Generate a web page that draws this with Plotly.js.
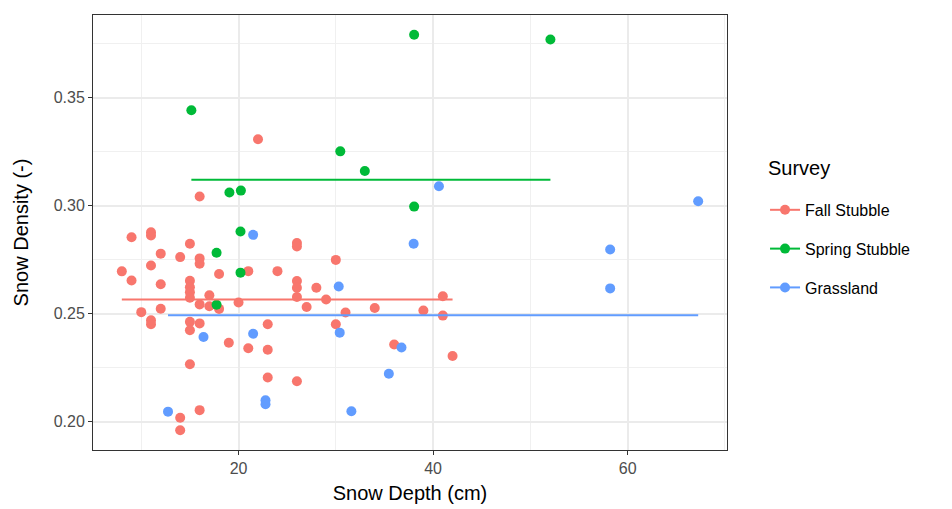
<!DOCTYPE html>
<html>
<head>
<meta charset="utf-8">
<script src="https://cdn.plot.ly/plotly-3.0.1.min.js"></script>
<style>html,body{margin:0;padding:0;background:#fff;}#chart{width:952px;height:509px;}</style>
</head>
<body>
<div id="chart"></div>
<script>
// ---- Data ----
const seriesNames = ["Fall Stubble", "Spring Stubble", "Grassland"];

const fallDepth = [16, 22, 9, 11, 11, 15, 12, 14, 16, 16, 11, 8, 18, 21, 24, 9, 12, 15, 15, 15,
  15, 17, 16, 17, 18, 10, 12, 20, 11, 11, 15, 16, 15, 19, 21, 23, 23, 15, 23, 16,
  14, 14, 26, 26, 30, 26, 26, 28, 26, 29, 27, 31, 34, 39, 41, 41, 30, 36, 42, 26];
const fallDensity = [0.3043, 0.3308, 0.2854, 0.2877, 0.2862, 0.2824, 0.2778, 0.2762, 0.2756, 0.2731,
  0.2723, 0.2696, 0.2684, 0.2697, 0.2697, 0.2654, 0.2636, 0.2652, 0.2622, 0.2599,
  0.2574, 0.2585, 0.2543, 0.2534, 0.2522, 0.2507, 0.2523, 0.2552, 0.2469, 0.2451,
  0.2462, 0.2455, 0.2423, 0.2365, 0.2340, 0.2451, 0.2333, 0.2266, 0.2204, 0.2053,
  0.2018, 0.1960, 0.2827, 0.2811, 0.2749, 0.2651, 0.2620, 0.2620, 0.2577, 0.2566,
  0.2531, 0.2505, 0.2526, 0.2515, 0.2581, 0.2491, 0.2451, 0.2357, 0.2304, 0.2187];

const springDepth = [15.15, 38.05, 52.06, 30.46, 32.98, 19.06, 20.24, 38.05, 20.2, 17.74, 20.2, 17.74];
const springDensity = [0.3442, 0.3792, 0.3770, 0.3252, 0.3161, 0.3061, 0.3070, 0.2996, 0.2881, 0.2782, 0.2690, 0.2541];

const grassDepth = [67.25, 40.6, 21.5, 38.0, 58.2, 58.2, 30.3, 16.4, 21.5, 30.4, 36.75, 35.45, 12.75, 22.77, 22.77, 31.6];
const grassDensity = [0.3021, 0.3090, 0.2865, 0.2824, 0.2797, 0.2617, 0.2626, 0.2392, 0.2407, 0.2412, 0.2343, 0.2222, 0.2046, 0.2099, 0.2080, 0.2048];

const xTickVals = [20, 40, 60];
const xMinorVals = [10, 30, 50, 70];
const yTickVals = [0.20, 0.25, 0.30, 0.35];
const yMinorVals = [0.175, 0.225, 0.275, 0.325, 0.375];
const legendTitle = "Survey";

// ---- Styling ----
const colors = ["#F8766D", "#00BA38", "#619CFF"];
const FONT = "Liberation Sans, Arial, sans-serif";

const groups = [
  {name: seriesNames[0], x: fallDepth, y: fallDensity},
  {name: seriesNames[1], x: springDepth, y: springDensity},
  {name: seriesNames[2], x: grassDepth, y: grassDensity}
];

const mean = a => a.reduce((s, v) => s + v, 0) / a.length;
const traces = [];
groups.forEach((g, i) => {
  traces.push({
    type: "scatter", mode: "markers", x: g.x, y: g.y, name: g.name,
    marker: {color: colors[i], size: 10, line: {width: 0}},
    showlegend: false, legendgroup: g.name, hoverinfo: "x+y"
  });
});
groups.forEach((g, i) => {
  const m = mean(g.y);
  traces.push({
    type: "scatter", mode: "lines", x: [Math.min(...g.x), Math.max(...g.x)], y: [m, m],
    name: g.name, line: {color: colors[i], width: 2},
    showlegend: false, legendgroup: g.name, hoverinfo: "skip"
  });
});
groups.forEach((g, i) => {
  traces.push({
    type: "scatter", mode: "lines+markers", x: [null], y: [null], name: g.name,
    line: {color: colors[i], width: 2}, marker: {color: colors[i], size: 10},
    showlegend: true, legendgroup: g.name
  });
});

// ggplot-style 5% expansion
const allX = fallDepth.concat(springDepth, grassDepth);
const allY = fallDensity.concat(springDensity, grassDensity);
const xmin = Math.min(...allX), xmax = Math.max(...allX);
const ymin = Math.min(...allY), ymax = Math.max(...allY);
const xr = [xmin - 0.05 * (xmax - xmin), xmax + 0.05 * (xmax - xmin)];
const yr = [ymin - 0.05 * (ymax - ymin), ymax + 0.05 * (ymax - ymin)];

const layout = {
  width: 952, height: 509,
  margin: {l: 93, r: 225, t: 15, b: 59},
  paper_bgcolor: "#ffffff", plot_bgcolor: "#ffffff",
  font: {family: FONT, color: "#000000"},
  showlegend: true,
  xaxis: {
    range: xr, tickvals: xTickVals, ticktext: xTickVals.map(String),
    ticks: "outside", ticklen: 4, tickwidth: 1, tickcolor: "#333333",
    tickfont: {size: 16, color: "#4D4D4D", family: FONT},
    showgrid: true, gridcolor: "#EBEBEB", gridwidth: 2,
    minor: {tickvals: xMinorVals, showgrid: true, gridcolor: "#F0F0F0", gridwidth: 1, ticks: ""},
    zeroline: false, showline: true, linecolor: "#333333", linewidth: 1, mirror: true,
    title: {text: "Snow Depth (cm)", font: {size: 20, family: FONT, color: "#000"}, standoff: 9}
  },
  yaxis: {
    range: yr, tickvals: yTickVals, ticktext: yTickVals.map(v => v.toFixed(2)),
    ticks: "outside", ticklen: 4, tickwidth: 1, tickcolor: "#333333",
    tickfont: {size: 16, color: "#4D4D4D", family: FONT},
    showgrid: true, gridcolor: "#EBEBEB", gridwidth: 2,
    minor: {tickvals: yMinorVals, showgrid: true, gridcolor: "#F0F0F0", gridwidth: 1, ticks: ""},
    zeroline: false, showline: true, linecolor: "#333333", linewidth: 1, mirror: true,
    title: {text: "Snow Density (-)", font: {size: 20, family: FONT, color: "#000"}, standoff: 19}
  },
  legend: {
    x: 1.06, xanchor: "left", y: 0.591, yanchor: "top",
    font: {size: 16, family: FONT, color: "#000"},
    tracegroupgap: 15, itemwidth: 30, bgcolor: "rgba(0,0,0,0)"
  },
  annotations: [{
    text: legendTitle, xref: "paper", yref: "paper", x: 1.0615, y: 0.648,
    xanchor: "left", yanchor: "middle", showarrow: false,
    font: {size: 20, family: FONT, color: "#000"}
  }]
};

Plotly.newPlot("chart", traces, layout, {displayModeBar: false, staticPlot: true});
</script>
</body>
</html>
